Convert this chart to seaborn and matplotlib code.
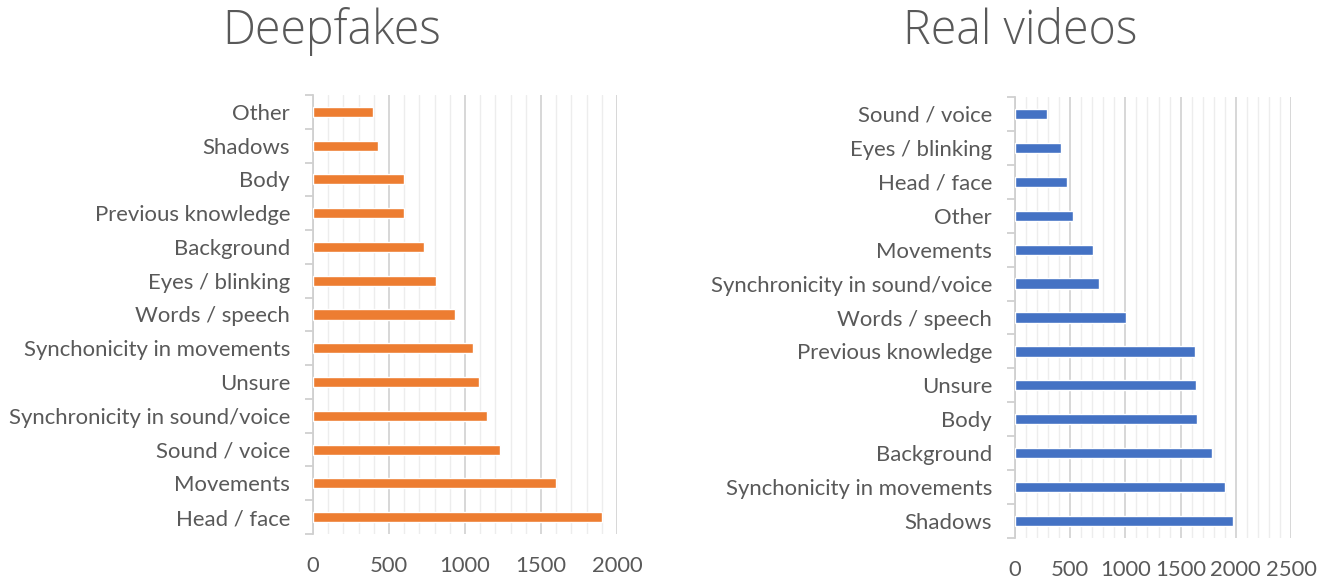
import matplotlib
matplotlib.use("Agg")
import matplotlib.pyplot as plt
from matplotlib.ticker import MultipleLocator, FixedLocator
import seaborn as sns
import pandas as pd

deepfake_labels = [
    "Other", "Shadows", "Body", "Previous knowledge", "Background",
    "Eyes / blinking", "Words / speech", "Synchonicity in movements",
    "Unsure", "Synchronicity in sound/voice", "Sound / voice",
    "Movements", "Head / face",
]
deepfake_counts = [397, 430, 600, 600, 728, 809, 934, 1053, 1092, 1147, 1228, 1597, 1901]

real_labels = [
    "Sound / voice", "Eyes / blinking", "Head / face", "Other", "Movements",
    "Synchronicity in sound/voice", "Words / speech", "Previous knowledge",
    "Unsure", "Body", "Background", "Synchonicity in movements", "Shadows",
]
real_counts = [287, 417, 468, 522, 709, 764, 1005, 1630, 1637, 1651, 1781, 1899, 1972]

deepfake_ticks = [0, 500, 1000, 1500, 2000]
real_ticks = [0, 500, 1000, 1500, 2000, 2500]

sns.set_theme(style="white")
plt.rcParams["font.family"] = ["Lato", "DejaVu Sans"]

TEXT = "#595959"
fig = plt.figure(figsize=(13.32, 5.81), dpi=100)

W, H = 1332, 581


def panel(rect_px, labels, counts, ticks, color, xmax):
    x0, y0, x1, y1 = rect_px
    ax = fig.add_axes([x0 / W, 1 - y1 / H, (x1 - x0) / W, (y1 - y0) / H])
    df = pd.DataFrame({"label": labels, "count": counts})
    sns.barplot(data=df, y="label", x="count", orient="h", color=color,
                width=0.3, saturation=1, ax=ax, zorder=3)
    ax.set_xlim(0, xmax)
    ax.set_ylim(len(labels) - 0.5, -0.5)
    ax.set_xlabel("")
    ax.set_ylabel("")
    ax.xaxis.set_major_locator(FixedLocator(ticks))
    ax.xaxis.set_minor_locator(MultipleLocator(100))
    ax.grid(which="major", axis="x", color="#d4d4d4", linewidth=1.3, zorder=0)
    ax.grid(which="minor", axis="x", color="#ededed", linewidth=1.0, zorder=0)
    ax.grid(axis="y", visible=False)
    for side in ["top", "right", "bottom"]:
        ax.spines[side].set_visible(False)
    ax.spines["left"].set_color("#d0d0d0")
    ax.spines["left"].set_linewidth(1.3)
    ax.yaxis.set_minor_locator(FixedLocator([i - 0.5 for i in range(len(labels) + 1)]))
    ax.tick_params(axis="y", which="major", length=0, pad=16.5, labelsize=15.9, labelcolor=TEXT)
    ax.tick_params(axis="y", which="minor", left=True, length=6, width=1.3, color="#d0d0d0")
    ax.tick_params(axis="x", which="both", length=0, pad=16, labelsize=15.8, labelcolor=TEXT)
    return ax


panel((313, 95, 617, 534), deepfake_labels, deepfake_counts, deepfake_ticks, "#ED7D31", 2000)
panel((1015, 97, 1291, 538), real_labels, real_counts, real_ticks, "#4472C4", 2500)

title_font = dict(family=["Open Sans", "Lato", "DejaVu Sans"], fontweight="light")
fig.text(332 / W, 1 - 32 / H, "Deepfakes", ha="center", va="center",
         fontsize=33.5, color=TEXT, **title_font)
fig.text(1020 / W, 1 - 32 / H, "Real videos", ha="center", va="center",
         fontsize=33.5, color=TEXT, **title_font)

fig.savefig("out.png", dpi=100)
